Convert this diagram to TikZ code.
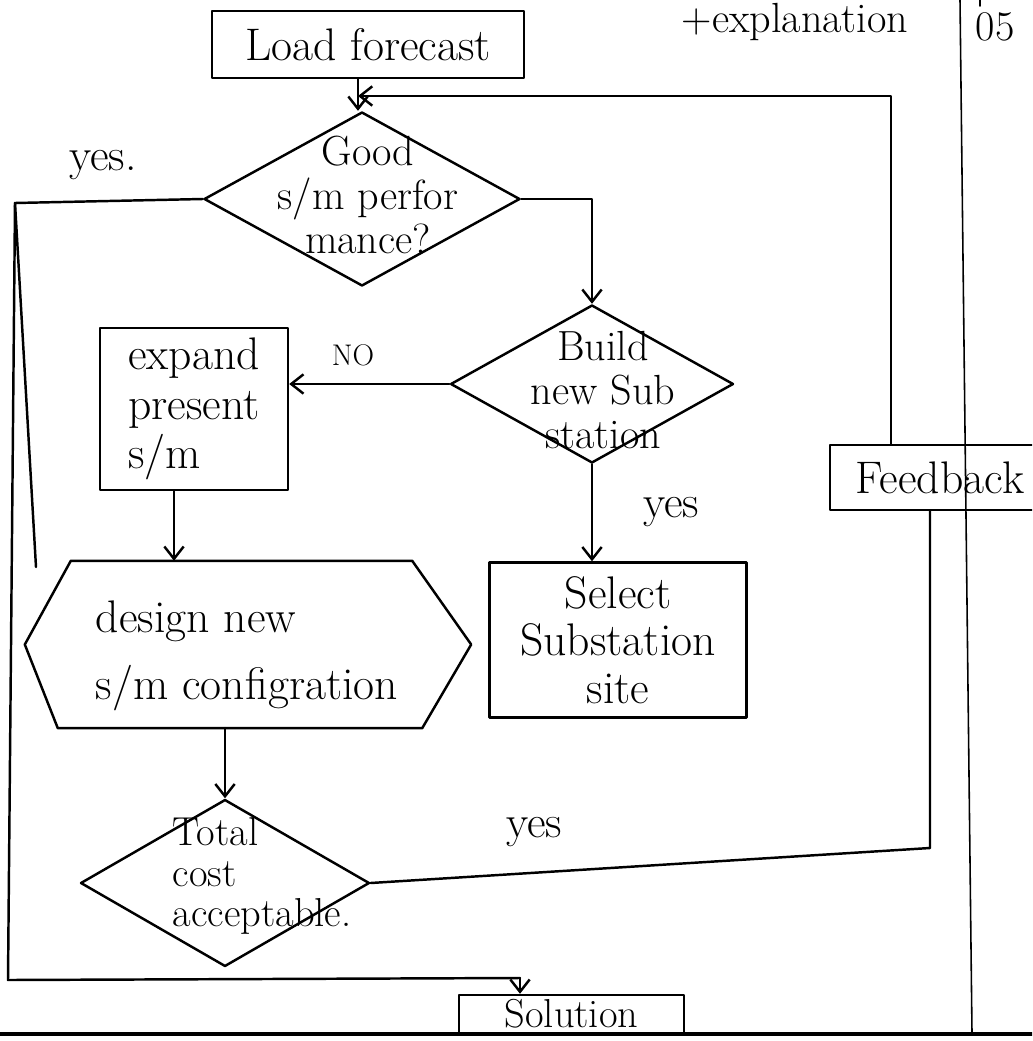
\documentclass[tikz,border=0pt]{standalone}
\usetikzlibrary{shapes.geometric,arrows.meta}
\begin{document}
\begin{tikzpicture}[x=0.02cm,y=-0.02cm,
  line width=1.4pt, line cap=round, line join=round,
  every node/.style={font=\fontsize{26}{22}\selectfont, inner sep=0pt},
  box/.style={draw, rectangle, align=center},
  decision/.style={draw, diamond, inner sep=0pt},
  flow/.style={-{Straight Barb[length=7pt,width=11pt]}}]
\useasboundingbox (0,0) rectangle (1032,1041);
\clip (0,0) rectangle (1032,1041);

% ruled page: margin column and bottom line
\draw[line width=0.9pt] (960,0) -- (972,1033);
\draw[line width=1.8pt] (0,1034) -- (1032,1034);
\draw[line width=0.9pt] (980,0) -- (980,6);

% process steps
\node[box, minimum width=6.24cm, minimum height=1.34cm] (load) at (368,44.5) {Load forecast};

\node[decision, minimum width=6.32cm, minimum height=3.48cm] (good) at (362,199) {};
\node[align=center, font=\fontsize{24}{25}\selectfont] (goodtext) at (368,195) {Good\\s/m perfor\\mance?};

\node[decision, minimum width=5.66cm, minimum height=3.16cm] (build) at (592,384) {};
\node[align=center, font=\fontsize{24}{25}\selectfont] (buildtext) at (603,390) {Build\\new Sub\\station};

\node[box, align=left, font=\fontsize{26}{28}\selectfont,
      minimum width=3.76cm, minimum height=3.24cm] (expand) at (194,409) {expand\\present\\s/m};

% hexagonal step drawn around an invisible frame
\node[minimum width=8.88cm, minimum height=3.3cm] (design) at (248,644.5) {};
\draw ([xshift=0.92cm]design.north west) -- ([xshift=-1.18cm]design.north east)
   -- (design.east) -- ([xshift=-0.98cm]design.south east)
   -- ([xshift=0.66cm]design.south west) -- (design.west) -- cycle;
\node[align=left, font=\fontsize{26}{38}\selectfont] (designtext) at (247,656) {design new\\s/m configration};

\node[box, font=\fontsize{26}{27}\selectfont,
      minimum width=5.14cm, minimum height=3.1cm] (select) at (618,640) {Select\\Substation\\site};

\node[decision, minimum width=5.78cm, minimum height=3.34cm] (total) at (225,883) {};
\node[align=left, font=\fontsize{23}{23}\selectfont] (totaltext) at (262,876) {Total\\cost\\acceptable.};

\node[box, minimum width=4.4cm, minimum height=1.3cm] (feedback) at (940,477.5) {Feedback};

\node[box, font=\fontsize{23}{23}\selectfont,
      minimum width=4.5cm, minimum height=0.76cm] (solution) at (571.5,1014) {Solution};

% labels
\node (yesgood) at (103,165) {yes.};
\node[font=\fontsize{17}{20}\selectfont] (nobuild) at (353,355) {NO};
\node (yesbuild) at (671,512) {yes};
\node (yestotal) at (534,832) {yes};
\node[font=\fontsize{24}{24}\selectfont] (expl) at (795,22) {+explanation};
\node[font=\fontsize{24}{24}\selectfont] (marks) at (995,27) {05};

% connectors
\coordinate (join) at (358,96);
\draw[flow] (join |- load.south) -- (join |- good.north);
\draw[flow] ([xshift=-0.98cm]feedback.north) |- (join);

\coordinate (fbturn) at (930,848);
\draw (total.east) -- (fbturn) -- (fbturn |- feedback.south);

\draw[flow] (good.east) -| (build.north);
\draw[flow] (build.west) -- (build.west -| expand.east);
\draw[flow] ([xshift=-0.4cm]expand.south) -- ([xshift=-0.4cm]expand.south |- design.north);
\draw[flow] (design.south -| total.north) -- (total.north);
\draw[flow] (build.south) -- (build.south |- select.north);

\coordinate (corner) at (15,203);
\coordinate (yesend) at (36,567);
\coordinate (lowcorner) at (8,980);
\coordinate (drop) at (520,978);
\draw (good.west) -- (corner) -- (yesend);
\draw (corner) -- (lowcorner) -- (drop);
\draw[flow] (drop) -- (drop |- solution.north);
\end{tikzpicture}
\end{document}
